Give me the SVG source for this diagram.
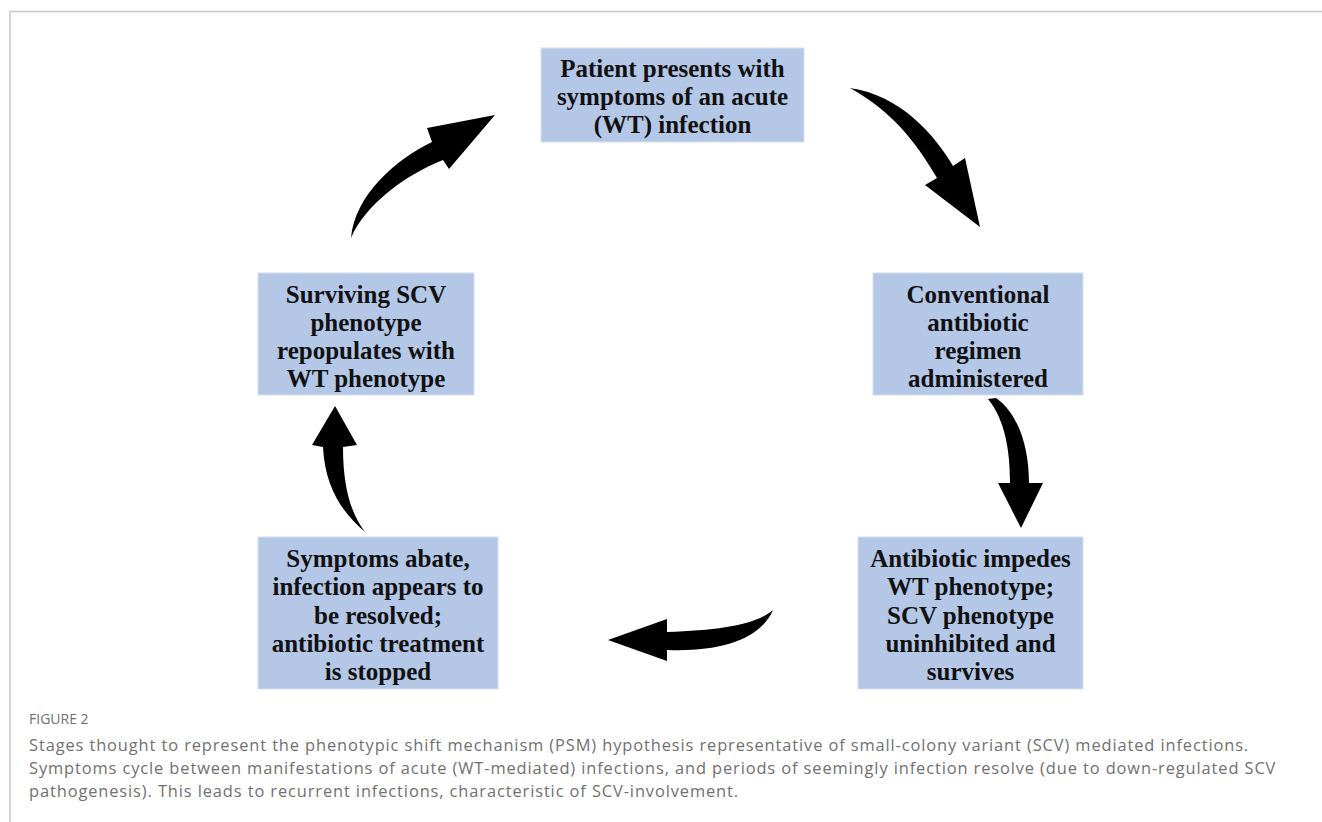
<svg xmlns="http://www.w3.org/2000/svg" width="1322" height="822" viewBox="0 0 1322 822">
<style>
.box{fill:#b4c7e7;stroke:#d6e0f0;stroke-width:1}
.lbl{font-family:"Liberation Serif",serif;font-weight:bold;font-size:25px;fill:#111;text-anchor:middle}
.arr{fill:#000}
.cap{font-family:"Open Sans","Noto Sans",sans-serif;font-size:16.4px;letter-spacing:0.9px;fill:#707070}
.fig{font-family:"Open Sans","Noto Sans",sans-serif;font-size:14px;fill:#707070}
</style>
<rect width="1322" height="822" fill="#fff"/>
<path d="M10,822 L10,11.5 L1322,11.5" fill="none" stroke="#c8c8c8" stroke-width="1.5"/>

<g id="n1">
<rect class="box" x="541" y="48" width="263" height="94"/>
<text class="lbl" x="672.5" y="77">Patient presents with</text>
<text class="lbl" x="672.5" y="105">symptoms of an acute</text>
<text class="lbl" x="672.5" y="133">(WT) infection</text>
</g>
<g id="n2">
<rect class="box" x="873" y="273" width="210" height="122"/>
<text class="lbl" x="978" y="303">Conventional</text>
<text class="lbl" x="978" y="331">antibiotic</text>
<text class="lbl" x="978" y="359">regimen</text>
<text class="lbl" x="978" y="387">administered</text>
</g>
<g id="n3">
<rect class="box" x="858" y="537" width="225" height="152"/>
<text class="lbl" x="970.5" y="567">Antibiotic impedes</text>
<text class="lbl" x="970.5" y="595">WT phenotype;</text>
<text class="lbl" x="970.5" y="624">SCV phenotype</text>
<text class="lbl" x="970.5" y="652">uninhibited and</text>
<text class="lbl" x="970.5" y="680">survives</text>
</g>
<g id="n4">
<rect class="box" x="258" y="537" width="240" height="152"/>
<text class="lbl" x="378" y="567">Symptoms abate,</text>
<text class="lbl" x="378" y="595">infection appears to</text>
<text class="lbl" x="378" y="624">be resolved;</text>
<text class="lbl" x="378" y="652">antibiotic treatment</text>
<text class="lbl" x="378" y="680">is stopped</text>
</g>
<g id="n5">
<rect class="box" x="258" y="273" width="216" height="122"/>
<text class="lbl" x="366" y="303">Surviving SCV</text>
<text class="lbl" x="366" y="331">phenotype</text>
<text class="lbl" x="366" y="359">repopulates with</text>
<text class="lbl" x="366" y="387">WT phenotype</text>
</g>

<g id="connectors">
<path class="arr" d="M351,238 C355,195 395,160 432,142 L427,128 L495,115 L449,169 L443,160 C405,175 365,205 351,238 Z"/>
<path class="arr" d="M850,88 C900,95 935,135 953,166 L965,158 L980,227 L925,185 L937,178 C915,140 890,110 850,88 Z"/>
<path class="arr" d="M988,399 L996,398 C1020,415 1029,450 1029,483 L1043,483 L1021,528 L998,483 L1010,483 C1010,450 1005,420 988,399 Z"/>
<path class="arr" d="M773,610 C755,625 720,630 667,632 L667,619 L608,640 L667,661 L667,650 C720,652 760,640 773,610 Z"/>
<path class="arr" d="M365,532 C345,515 325,490 323,447 L312,445 L335,406 L357,445 L343,447 C343,490 352,515 365,532 Z"/>
</g>

<text class="fig" x="29" y="724">FIGURE 2</text>
<text class="cap" x="29" y="751">Stages thought to represent the phenotypic shift mechanism (PSM) hypothesis representative of small-colony variant (SCV) mediated infections.</text>
<text class="cap" x="29" y="774">Symptoms cycle between manifestations of acute (WT-mediated) infections, and periods of seemingly infection resolve (due to down-regulated SCV</text>
<text class="cap" x="29" y="797">pathogenesis). This leads to recurrent infections, characteristic of SCV-involvement.</text>
</svg>
